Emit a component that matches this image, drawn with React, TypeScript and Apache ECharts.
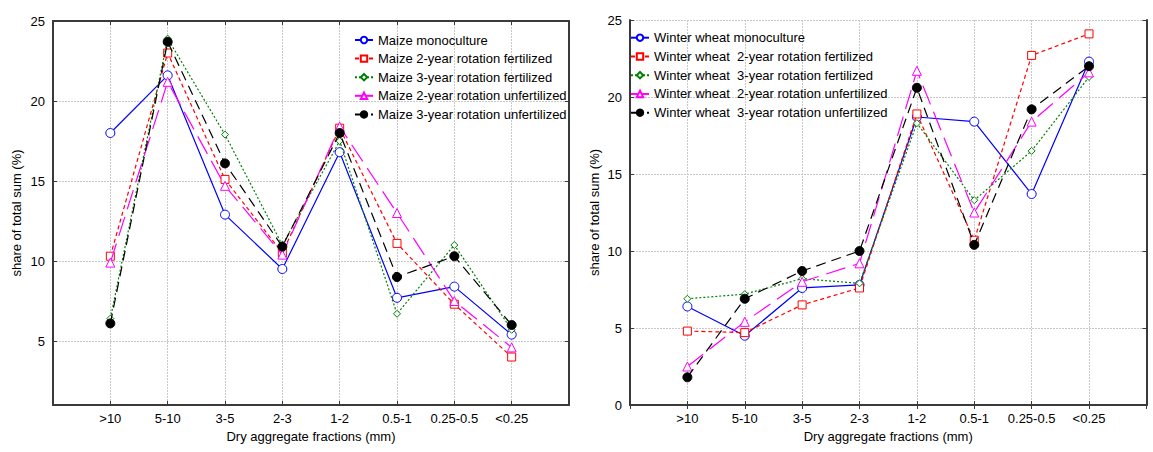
import React, { useEffect, useRef } from "react";
import * as echarts from "echarts";

const categories = [" ", ">10", "5-10", "3-5", "2-3", "1-2", "0.5-1", "0.25-0.5", "<0.25", "  "];
const fractions = [">10", "5-10", "3-5", "2-3", "1-2", "0.5-1", "0.25-0.5", "<0.25"];

const maizeNames = [
  "Maize monoculture",
  "Maize 2-year rotation fertilized",
  "Maize 3-year rotation fertilized",
  "Maize 2-year rotation unfertilized",
  "Maize 3-year rotation unfertilized",
];
const maizeMono = [18.0, 21.6, 12.9, 9.5, 16.8, 7.7, 8.4, 5.4];
const maize2Fert = [10.3, 23.0, 15.1, 10.5, 18.3, 11.1, 7.3, 4.0];
const maize3Fert = [6.4, 23.9, 17.9, 11.0, 17.5, 6.7, 11.0, 5.7];
const maize2Unfert = [9.9, 21.2, 14.7, 10.4, 18.4, 13.0, 7.5, 4.6];
const maize3Unfert = [6.1, 23.7, 16.1, 10.9, 18.0, 9.0, 10.3, 6.0];

const wheatNames = [
  "Winter wheat monoculture",
  "Winter wheat  2-year rotation fertilized",
  "Winter wheat  3-year rotation fertilized",
  "Winter wheat  2-year rotation unfertilized",
  "Winter wheat  3-year rotation unfertilized",
];
const wheatMono = [6.4, 4.5, 7.6, 7.8, 18.7, 18.4, 13.7, 22.3];
const wheat2Fert = [4.8, 4.7, 6.5, 7.6, 18.9, 10.7, 22.7, 24.1];
const wheat3Fert = [6.9, 7.2, 8.2, 7.9, 18.3, 13.3, 16.5, 21.3];
const wheat2Unfert = [2.5, 5.4, 8.0, 9.2, 21.7, 12.5, 18.4, 21.6];
const wheat3Unfert = [1.8, 6.9, 8.7, 10.0, 20.6, 10.4, 19.2, 22.0];

const leftYTicks = [5, 10, 15, 20, 25];

const FONT = 'Arial, "Liberation Sans", sans-serif';
const FS = 13;

const styles = [
  { color: "#0000ff", symbol: "circle", size: 9, fill: "#fff", type: "solid" as any },
  { color: "#ff0000", symbol: "rect", size: 8, fill: "#fff", type: [4, 3] },
  { color: "#008000", symbol: "diamond", size: 7, fill: "#fff", type: [2, 2] },
  { color: "#ff00ff", symbol: "triangle", size: 9, fill: "#fff", type: [20, 8] },
  { color: "#000000", symbol: "circle", size: 9, fill: "#000", type: [10, 6] },
];

function makeSeries(names: string[], values: number[][], axisIdx: number) {
  return names.map((name, k) => ({
    name,
    type: "line",
    xAxisIndex: axisIdx,
    yAxisIndex: axisIdx,
    data: values[k].map((v, i) => [fractions[i], v]),
    symbol: styles[k].symbol,
    symbolSize: styles[k].size,
    showSymbol: true,
    lineStyle: { color: styles[k].color, width: 1.2, type: styles[k].type },
    itemStyle: { color: styles[k].fill, borderColor: styles[k].color, borderWidth: 1 },
    emphasis: { disabled: true },
    z: 2 + k,
  }));
}

const axisLine = { show: true, lineStyle: { color: "#3a3a3a", width: 2 } };
const splitLine = { show: true, lineStyle: { color: "#c8c8c8", type: [2, 1], width: 1 } };
const tick = { show: true, inside: true, length: 4, lineStyle: { color: "#3a3a3a", width: 1 } };

function xAxes(gridIndex: number) {
  return [
    {
      type: "category",
      gridIndex,
      position: "bottom",
      data: categories,
      boundaryGap: false,
      axisLine,
      axisTick: { ...tick, alignWithLabel: true },
      axisLabel: { color: "#000", fontSize: FS, fontFamily: FONT, margin: 7, interval: 0 },
      splitLine: { ...splitLine, interval: 0 },
      name: "Dry aggregate fractions (mm)",
      nameLocation: "middle",
      nameGap: 20,
      nameTextStyle: { color: "#000", fontSize: FS, fontFamily: FONT },
    },
    {
      type: "category",
      gridIndex,
      position: "top",
      data: categories,
      boundaryGap: false,
      axisLine,
      axisTick: { ...tick, interval: 0 },
      axisLabel: { show: false },
      splitLine: { show: false },
    },
  ];
}

function yAxes(gridIndex: number, left: boolean) {
  const common: any = left
    ? { min: 1, max: 25 }
    : { min: 0, max: 25, interval: 5 };
  const main: any = {
    type: "value",
    gridIndex,
    position: "left",
    ...common,
    axisLine,
    axisTick: { ...tick },
    axisLabel: { color: "#000", fontSize: FS, fontFamily: FONT, margin: 8 },
    splitLine,
    name: "share of total sum (%)",
    nameLocation: "middle",
    nameGap: left ? 30 : 29,
    nameTextStyle: { color: "#000", fontSize: FS, fontFamily: FONT },
  };
  const side: any = {
    type: "value",
    gridIndex,
    position: "right",
    ...common,
    axisLine,
    axisTick: { ...tick },
    axisLabel: { show: false },
    splitLine: { show: false },
  };
  if (left) {
    main.axisTick.customValues = leftYTicks;
    main.axisLabel.customValues = leftYTicks;
    side.axisTick.customValues = leftYTicks;
    side.axisLabel.customValues = leftYTicks;
  }
  return [main, side];
}

export default function App() {
  const ref = useRef<HTMLDivElement>(null);
  useEffect(() => {
    if (!ref.current) return;
    const chart = echarts.init(ref.current, null, { renderer: "svg" });
    const option: any = {
      animation: false,
      backgroundColor: "#fff",
      textStyle: { fontFamily: FONT },
      grid: [
        { left: 53, top: 21, right: 584, bottom: 47, containLabel: false },
        { left: 630, top: 20, right: -9, bottom: 47, containLabel: false },
      ],
      xAxis: [...xAxes(0), ...xAxes(1)],
      yAxis: [...yAxes(0, true), ...yAxes(1, false)],
      legend: [
        {
          data: maizeNames,
          orient: "vertical",
          left: 354,
          top: 33.5,
          padding: 0,
          itemWidth: 18,
          itemHeight: 8,
          itemGap: 5.6,
          selectedMode: false,
          textStyle: { color: "#000", fontSize: FS, fontFamily: FONT },
        },
        {
          data: wheatNames,
          orient: "vertical",
          left: 630,
          top: 31.2,
          padding: 0,
          itemWidth: 18,
          itemHeight: 8,
          itemGap: 5.75,
          selectedMode: false,
          textStyle: { color: "#000", fontSize: FS, fontFamily: FONT },
        },
      ],
      series: [
        ...makeSeries(maizeNames, [maizeMono, maize2Fert, maize3Fert, maize2Unfert, maize3Unfert], 0),
        ...makeSeries(wheatNames, [wheatMono, wheat2Fert, wheat3Fert, wheat2Unfert, wheat3Unfert], 2),
      ],
    };
    chart.setOption(option);
    return () => chart.dispose();
  }, []);
  return (
    <div
      ref={ref}
      style={{ position: "fixed", left: 0, top: 0, width: 1153, height: 452, overflow: "hidden" }}
    />
  );
}
